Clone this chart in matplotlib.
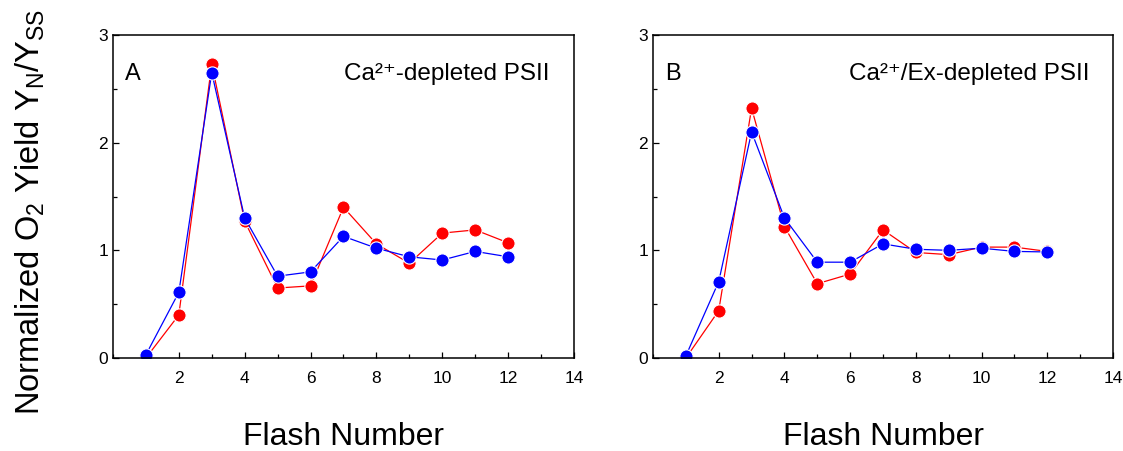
import matplotlib
matplotlib.use("Agg")
import matplotlib.pyplot as plt
from matplotlib.ticker import MultipleLocator

plt.rcParams["font.family"] = ["Liberation Sans", "DejaVu Sans"]
plt.rcParams["mathtext.fontset"] = "custom"
plt.rcParams["mathtext.rm"] = "Liberation Sans"
plt.rcParams["mathtext.it"] = "Liberation Sans"
plt.rcParams["mathtext.bf"] = "Liberation Sans"

# Flash-number series
flash = [1, 2, 3, 4, 5, 6, 7, 8, 9, 10, 11, 12]

# Panel A: Ca2+-depleted PSII
a_red = [0.00, 0.40, 2.73, 1.27, 0.65, 0.67, 1.40, 1.06, 0.88, 1.16, 1.19, 1.07]
a_blue = [0.03, 0.61, 2.65, 1.30, 0.76, 0.80, 1.13, 1.02, 0.94, 0.91, 0.99, 0.94]

# Panel B: Ca2+/Ex-depleted PSII
b_red = [0.00, 0.44, 2.32, 1.22, 0.69, 0.78, 1.19, 0.98, 0.96, 1.03, 1.03, 0.99]
b_blue = [0.02, 0.71, 2.10, 1.30, 0.89, 0.89, 1.06, 1.01, 1.00, 1.02, 0.99, 0.985]

panels = [
    ("A", "Ca\u00b2\u207a-depleted PSII", a_red, a_blue),
    ("B", "Ca\u00b2\u207a/Ex-depleted PSII", b_red, b_blue),
]

fig = plt.figure(figsize=(11.23, 4.51), dpi=100)
ax_a = fig.add_axes([0.1006, 0.2062, 0.4105, 0.7162])
ax_b = fig.add_axes([0.5815, 0.2062, 0.4096, 0.7162])

for ax, (letter, title, red, blue) in zip([ax_a, ax_b], panels):
    for ys, col in [(red, "#ff0000"), (blue, "#0000ff")]:
        ax.plot(flash, ys, color=col, lw=0.9, marker="o", ms=9.5,
                markerfacecolor=col, markeredgecolor="white", markeredgewidth=0.8)
    ax.set_xlim(0, 14)
    ax.set_ylim(0, 3)
    ax.xaxis.set_minor_locator(MultipleLocator(1))
    ax.yaxis.set_major_locator(MultipleLocator(1))
    ax.yaxis.set_minor_locator(MultipleLocator(0.5))
    ax.set_xticks([2, 4, 6, 8, 10, 12, 14])
    ax.tick_params(which="both", direction="in", labelsize=12.5, width=0.9)
    ax.tick_params(which="major", length=4)
    ax.tick_params(which="minor", length=3)
    ax.tick_params(axis="x", pad=9)
    for sp in ax.spines.values():
        sp.set_linewidth(1.1)
    ax.text(0.027, 0.88, letter, transform=ax.transAxes, fontsize=17,
            ha="left", va="center")
    ax.text(0.948, 0.88, title, transform=ax.transAxes, fontsize=17.5,
            ha="right", va="center")
    ax.set_xlabel("Flash Number", fontsize=23, labelpad=26)

fig.text(0.027, 0.53, "Normalized O$_2$ Yield Y$_N$/Y$_{SS}$", rotation=90,
         fontsize=23.5, ha="center", va="center")

fig.savefig("out.png", dpi=100)
